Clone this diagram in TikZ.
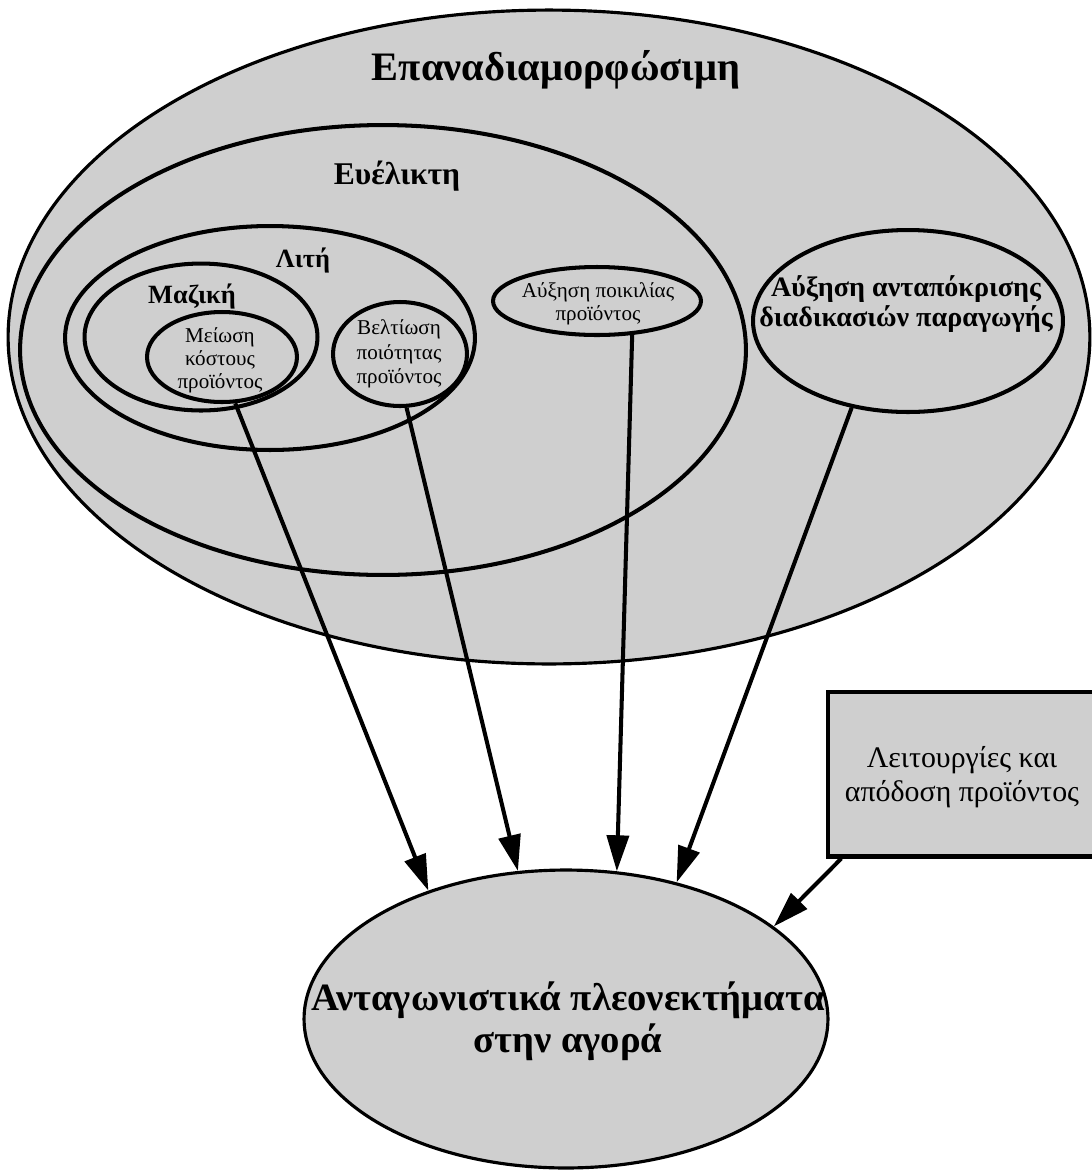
\documentclass[tikz,border=0pt]{standalone}
\usepackage{fontspec}
\setmainfont{Liberation Serif}
\usetikzlibrary{
  arrows.meta,
  shapes.geometric,
  positioning
}
\definecolor{regiongray}{gray}{0.81}

\begin{document}
\begin{tikzpicture}[
      x=0.02cm, y=-0.02cm,
      region/.style={
         ellipse,
         inner sep=0pt,
         line width=2.3pt,
         draw=black,
         fill=regiongray
      },
      box/.style={
         rectangle,
         inner sep=0pt,
         line width=2.3pt,
         draw=black,
         fill=regiongray
      },
      headline/.style={
         font=\bfseries\fontsize{#1}{#1}\selectfont,
         inner sep=0pt,
         anchor=base
      },
      plainlabel/.style={
         align=center,
         inner sep=0pt,
         font=\fontsize{12}{13.2}\selectfont
      },
      tip/.style={-{Triangle[length=0.72cm,width=0.44cm]},line width=2.3pt},
      %text height=1.5ex,text depth=.25ex
    ]
  \useasboundingbox (0,0) rectangle (1092,1171);

  % nested regions
  \node (reconf)   [region, line width=1.8pt, minimum width=21.64cm, minimum height=13.08cm] at (549,337) {};
  \node (flex)     [region, minimum width=14.52cm, minimum height=9cm] at (383,350) {};
  \node (lean)     [region, minimum width=8.2cm, minimum height=4.48cm] at (270,338) {};
  \node (mass)     [region, minimum width=4.66cm, minimum height=2.94cm] at (201,337) {};
  \node (cost)     [region, minimum width=3cm, minimum height=1.8cm] at (222,357) {};
  \node (quality)  [region, minimum width=2.68cm, minimum height=2.08cm] at (400,354) {};
  \node (variety)  [region, minimum width=4.16cm, minimum height=1.36cm] at (597,301) {};
  \node (response) [region, minimum width=6.2cm, minimum height=3.64cm] at (908,321) {};

  \node (market)   [region, line width=1.8pt, minimum width=10.48cm, minimum height=5.96cm] at (566,1019) {};
  \node (product)  [box, minimum width=5.36cm, minimum height=3.3cm] at (962,774) {};

  % texts
  \node (reconf-t)   [headline=23] at (556,80)  {Επαναδιαμορφώσιμη};
  \node (flex-t)     [headline=18] at (397,184) {Ευέλικτη};
  \node (lean-t)     [headline=15] at (303,267) {Λιτή};
  \node (mass-t)     [headline=15] at (192,303) {Μαζική};
  \node (cost-t)     [plainlabel] at (220,360) {Μείωση\\κόστους\\προϊόντος};
  \node (quality-t)  [plainlabel, font=\fontsize{12}{14}\selectfont] at (399,354) {Βελτίωση\\ποιότητας\\προϊόντος};
  \node (variety-t)  [plainlabel] at (598,304) {Αύξηση ποικιλίας\\προϊόντος};
  \node (response-t) [plainlabel, font=\bfseries\fontsize{16}{17.5}\selectfont] at (906,304)
                     {Αύξηση ανταπόκρισης\\διαδικασιών παραγωγής};
  \node (product-t)  [plainlabel, font=\fontsize{17}{19.5}\selectfont] at (962,777)
                     {Λειτουργίες και\\απόδοση προϊόντος};
  \node (market-t)   [plainlabel, font=\bfseries\fontsize{22}{24}\selectfont] at (568,1021)
                     {Ανταγωνιστικά πλεονεκτήματα\\στην αγορά};

  % connectors
  \draw[tip] (cost.-74)      -- (market.137);
  \draw[tip] (quality.-83)   -- (market.108);
  \draw[tip] (variety.-44)   -- (market.71);
  \draw[tip] (response.-123) -- (market.51);
  \draw[tip] (product.-145)  -- (market.24);
\end{tikzpicture}
\end{document}
